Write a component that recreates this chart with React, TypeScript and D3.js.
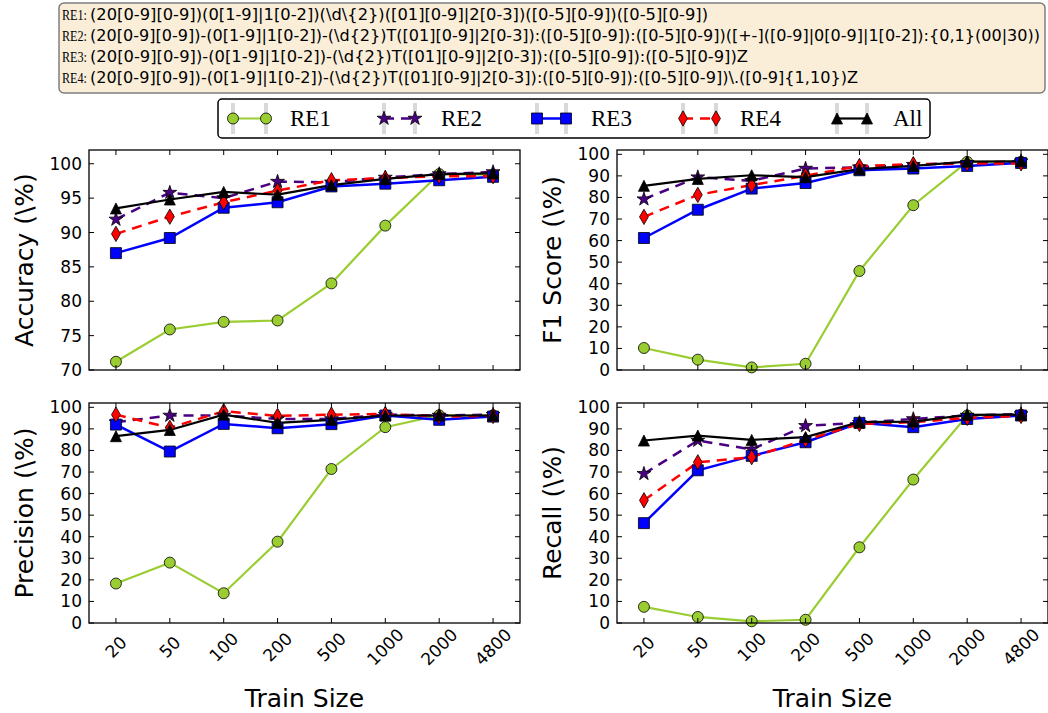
import React from "react";
import * as d3 from "d3";

// x categories
const trainSizes = ["20", "50", "100", "200", "500", "1000", "2000", "4800"];
const seriesNames = ["RE1", "RE2", "RE3", "RE4", "All"];

// regex header
const regexLabels = ["RE1:", "RE2:", "RE3:", "RE4:"];
const regexTexts = [
  "(20[0-9][0-9])(0[1-9]|1[0-2])(\\d\\{2})([01][0-9]|2[0-3])([0-5][0-9])([0-5][0-9])",
  "(20[0-9][0-9])-(0[1-9]|1[0-2])-(\\d{2})T([01][0-9]|2[0-3]):([0-5][0-9]):([0-5][0-9])([+-]([0-9]|0[0-9]|1[0-2]):{0,1}(00|30))",
  "(20[0-9][0-9])-(0[1-9]|1[0-2])-(\\d{2})T([01][0-9]|2[0-3]):([0-5][0-9]):([0-5][0-9])Z",
  "(20[0-9][0-9])-(0[1-9]|1[0-2])-(\\d{2})T([01][0-9]|2[0-3]):([0-5][0-9]):([0-5][0-9])\\.([0-9]{1,10})Z",
];
const regexWidths = [618, 950, 658, 768];

// accuracy
const accuracyRE1 = [71.2, 75.9, 77.0, 77.2, 82.6, 91.0, 98.5, 98.4];
const accuracyRE2 = [91.9, 95.8, 95.0, 97.4, 97.3, 98.0, 98.5, 98.8];
const accuracyRE3 = [87.0, 89.2, 93.6, 94.4, 96.7, 97.1, 97.6, 98.1];
const accuracyRE4 = [89.8, 92.3, 94.4, 96.1, 97.6, 97.9, 98.2, 98.2];
const accuracyAll = [93.5, 94.8, 95.9, 95.5, 96.9, 97.8, 98.5, 98.6];

// f1 score
const f1RE1 = [10.2, 4.8, 1.2, 2.9, 45.9, 76.4, 96.5, 96.5];
const f1RE2 = [79.2, 89.4, 87.7, 93.4, 94.0, 95.2, 96.1, 96.8];
const f1RE3 = [61.2, 74.3, 84.1, 86.7, 92.6, 93.4, 94.6, 96.0];
const f1RE4 = [71.0, 81.2, 85.7, 90.1, 94.6, 95.4, 95.7, 95.8];
const f1All = [85.4, 88.6, 90.3, 89.4, 93.1, 94.6, 96.6, 96.8];

// precision
const precisionRE1 = [18.3, 28.0, 13.8, 37.7, 71.4, 90.8, 96.3, 96.3];
const precisionRE2 = [93.1, 96.2, 96.2, 94.6, 94.6, 96.6, 96.2, 96.6];
const precisionRE3 = [92.0, 79.5, 92.3, 90.3, 92.2, 96.2, 94.2, 95.7];
const precisionRE4 = [96.6, 90.5, 98.2, 96.0, 96.6, 96.9, 95.7, 96.0];
const precisionAll = [86.6, 89.5, 96.6, 92.8, 94.2, 96.2, 96.2, 96.2];

// recall
const recallRE1 = [7.5, 2.8, 0.8, 1.5, 35.1, 66.5, 96.2, 96.5];
const recallRE2 = [69.2, 84.6, 80.5, 91.4, 92.8, 94.6, 96.2, 96.9];
const recallRE3 = [46.3, 70.8, 77.5, 83.8, 92.8, 90.8, 94.6, 96.2];
const recallRE4 = [56.9, 74.5, 76.9, 84.9, 92.3, 93.1, 95.1, 96.0];
const recallAll = [84.6, 86.9, 84.9, 86.2, 93.1, 93.4, 96.5, 96.6];

const accuracyTicks = [70, 75, 80, 85, 90, 95, 100];
const percentTicks = [0, 10, 20, 30, 40, 50, 60, 70, 80, 90, 100];

const panels = [
  { label: "Accuracy (\\%)", series: [accuracyRE1, accuracyRE2, accuracyRE3, accuracyRE4, accuracyAll], domain: [70, 102], ticks: accuracyTicks },
  { label: "F1 Score (\\%)", series: [f1RE1, f1RE2, f1RE3, f1RE4, f1All], domain: [0, 102], ticks: percentTicks },
  { label: "Precision (\\%)", series: [precisionRE1, precisionRE2, precisionRE3, precisionRE4, precisionAll], domain: [0, 102], ticks: percentTicks },
  { label: "Recall (\\%)", series: [recallRE1, recallRE2, recallRE3, recallRE4, recallAll], domain: [0, 102], ticks: percentTicks },
];

const W = 1048;
const H = 713;
const PW = 431;
const PH = 220;
const origins = [
  { x: 89, y: 150 },
  { x: 617, y: 150 },
  { x: 89, y: 403 },
  { x: 617, y: 403 },
];

const SANS = "'DejaVu Sans', sans-serif";
const SERIF = "'Liberation Serif', 'DejaVu Serif', serif";

const triangle = "M0,-5.5L5.5,5.5L-5.5,5.5Z";
const styles = [
  { color: "#9acd32", width: 2.2, dash: null, marker: d3.symbol(d3.symbolCircle, 95)() },
  { color: "#4b0082", width: 2.5, dash: "10,7", marker: d3.symbol(d3.symbolStar, 60)() },
  { color: "#0000ff", width: 2.5, dash: null, marker: d3.symbol(d3.symbolSquare, 121)() },
  { color: "#ff0000", width: 2.5, dash: "10,7", marker: d3.symbol(d3.symbolDiamond, 68)() },
  { color: "#000000", width: 2.2, dash: null, marker: triangle },
];

const legendSlots = [
  { m1: 233, m2: 266, tx: 290 },
  { m1: 384, m2: 415, tx: 441 },
  { m1: 537, m2: 566, tx: 591 },
  { m1: 683, m2: 716, tx: 740 },
  { m1: 837, m2: 867, tx: 893 },
];

const Panel = ({ idx }: { idx: number }) => {
  const p = panels[idx];
  const o = origins[idx];
  const bottomRow = idx >= 2;
  const x = d3.scalePoint<string>().domain(trainSizes).range([0, PW]).padding(0.5);
  const y = d3.scaleLinear().domain(p.domain).range([PH, 0]);
  const line = d3
    .line<number>()
    .x((_, i) => x(trainSizes[i]) as number)
    .y((d) => y(d));

  return (
    <g transform={`translate(${o.x},${o.y})`}>
      <defs>
        <clipPath id={`clip${idx}`}>
          <rect x={0} y={0} width={PW} height={PH} />
        </clipPath>
      </defs>
      <g clipPath={`url(#clip${idx})`}>
        {p.series.map((vals, s) => (
          <path
            key={`l${s}`}
            d={line(vals) || ""}
            fill="none"
            stroke={styles[s].color}
            strokeWidth={styles[s].width}
            strokeDasharray={styles[s].dash || undefined}
          />
        ))}
      </g>
      {p.series.map((vals, s) =>
        vals.map((v, i) => (
          <path
            key={`m${s}-${i}`}
            d={styles[s].marker || ""}
            transform={`translate(${x(trainSizes[i])},${y(v)})`}
            fill={styles[s].color}
            stroke="#000"
            strokeWidth={0.8}
          />
        ))
      )}
      {/* ticks, inward on all sides */}
      {trainSizes.map((t) => (
        <g key={`xt${t}`}>
          <line x1={x(t)} x2={x(t)} y1={PH} y2={PH - 5} stroke="#000" strokeWidth={1} />
          <line x1={x(t)} x2={x(t)} y1={0} y2={5} stroke="#000" strokeWidth={1} />
          {bottomRow && (
            <text
              transform={`translate(${x(t)},${PH + 24}) rotate(-45)`}
              textAnchor="middle"
              dominantBaseline="central"
              fontFamily={SANS}
              fontSize={17}
              fill="#000"
            >
              {t}
            </text>
          )}
        </g>
      ))}
      {p.ticks.map((t) => (
        <g key={`yt${t}`}>
          <line x1={0} x2={5} y1={y(t)} y2={y(t)} stroke="#000" strokeWidth={1} />
          <line x1={PW} x2={PW - 5} y1={y(t)} y2={y(t)} stroke="#000" strokeWidth={1} />
          <text
            x={-7}
            y={y(t)}
            textAnchor="end"
            dominantBaseline="central"
            fontFamily={SANS}
            fontSize={17}
            fill="#000"
          >
            {t}
          </text>
        </g>
      ))}
      <rect x={0} y={0} width={PW} height={PH} fill="none" stroke="#000" strokeWidth={1.3} />
      <text
        transform={`translate(${-56},${PH / 2}) rotate(-90)`}
        textAnchor="middle"
        fontFamily={SANS}
        fontSize={25}
        fill="#000"
      >
        {p.label}
      </text>
      {bottomRow && (
        <text x={PW / 2} y={PH + 84} textAnchor="middle" fontFamily={SANS} fontSize={25} fill="#000">
          Train Size
        </text>
      )}
    </g>
  );
};

const App = () => {
  return (
    <svg
      width={W}
      height={H}
      style={{ position: "absolute", left: 0, top: 0, background: "#fff" }}
    >
      <rect x={0} y={0} width={W} height={H} fill="#fff" />

      {/* regex box */}
      <rect x={59} y={3} width={986} height={90} rx={5} fill="#faeed9" stroke="#7f7f7f" strokeWidth={1.5} />
      {regexLabels.map((lab, i) => (
        <g key={lab}>
          <text
            x={62}
            y={20 + i * 21}
            fontFamily={SERIF}
            fontSize={15}
            fill="#000"
            textLength={25}
            lengthAdjust="spacingAndGlyphs"
          >
            {lab}
          </text>
          <text
            x={90}
            y={20 + i * 21}
            fontFamily={SANS}
            fontSize={15}
            fill="#000"
            textLength={regexWidths[i]}
            lengthAdjust="spacingAndGlyphs"
          >
            {regexTexts[i]}
          </text>
        </g>
      ))}

      {/* legend */}
      <rect x={218} y={99} width={712} height={39} rx={4} fill="#fff" stroke="#000" strokeWidth={1.5} />
      {seriesNames.map((name, s) => {
        const slot = legendSlots[s];
        const cy = 118.5;
        return (
          <g key={name}>
            <rect x={slot.m1 - 2} y={103} width={4} height={31} fill="#d9d9d9" />
            <rect x={slot.m2 - 2} y={103} width={4} height={31} fill="#d9d9d9" />
            <line
              x1={slot.m1}
              x2={slot.m2}
              y1={cy}
              y2={cy}
              stroke={styles[s].color}
              strokeWidth={styles[s].width}
              strokeDasharray={styles[s].dash || undefined}
            />
            {[slot.m1, slot.m2].map((mx) => (
              <path
                key={mx}
                d={styles[s].marker || ""}
                transform={`translate(${mx},${cy})`}
                fill={styles[s].color}
                stroke="#000"
                strokeWidth={0.8}
              />
            ))}
            <text x={slot.tx} y={cy} dominantBaseline="central" fontFamily={SERIF} fontSize={23} fill="#000">
              {name}
            </text>
          </g>
        );
      })}

      {panels.map((_, i) => (
        <Panel key={i} idx={i} />
      ))}
    </svg>
  );
};

export default App;
